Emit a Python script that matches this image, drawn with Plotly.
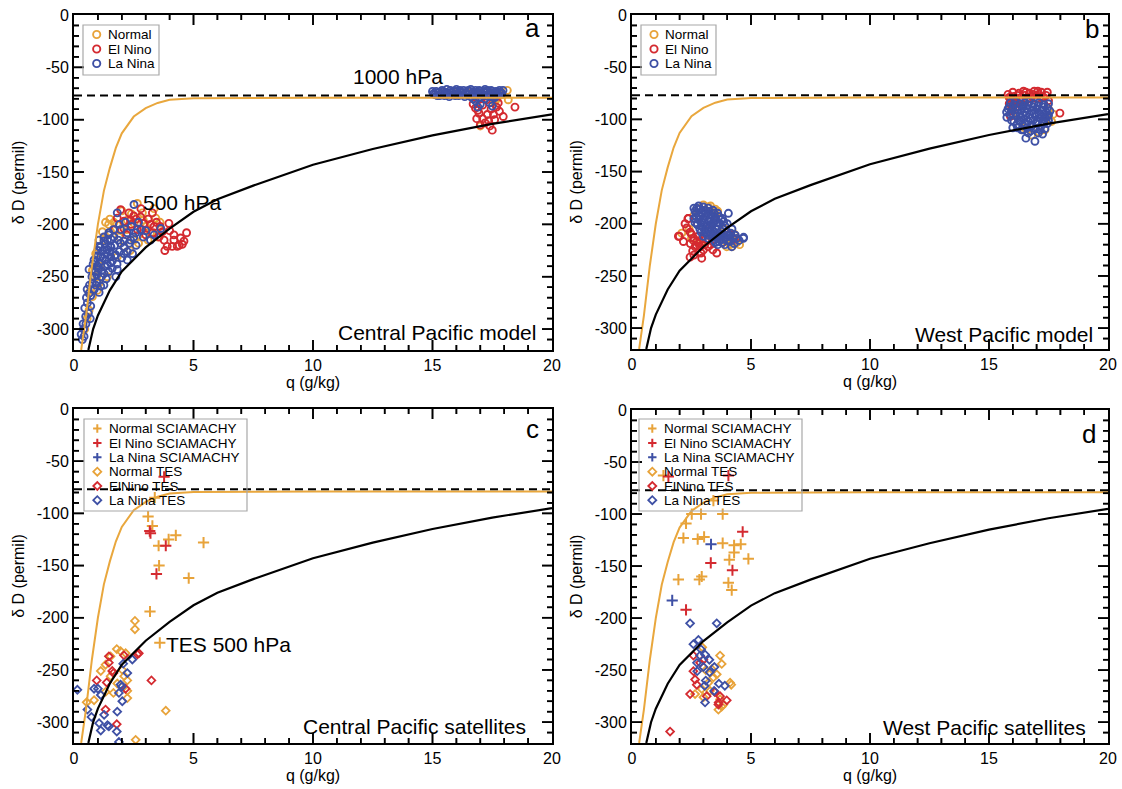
import plotly.graph_objects as go

# ---------------- data ----------------
X_TICK_VALS = [0, 5, 10, 15, 20]
X_TICK_TEXT = ["0", "5", "10", "15", "20"]
Y_TICK_VALS = [0, -50, -100, -150, -200, -250, -300]
Y_TICK_TEXT = ["0", "-50", "-100", "-150", "-200", "-250", "-300"]
X_RANGE = [0, 20]
Y_RANGE = [-320, 0]
X_MINOR_STEP = 1
Y_MINOR_STEP = 10

# Rayleigh-type curve (orange) and mixing curve (black)
Q_RAYLEIGH = [0.3, 0.5, 0.75, 1.0, 1.25, 1.5, 1.75, 2.0, 2.5, 3.0, 3.5, 4.0, 5.0, 7.5, 10, 15, 20]
DD_RAYLEIGH = [-320, -288, -240, -200, -168, -146, -127, -113, -97, -89, -84, -81, -79.5, -79, -79, -79, -79]
Q_MIXING = [0.6, 0.8, 1.0, 1.5, 2.0, 2.5, 3.0, 4.0, 5.0, 6.0, 7.5, 10, 12.5, 15, 17.5, 20]
DD_MIXING = [-320, -300, -287, -263, -245, -233, -222, -204, -188, -176, -163, -143, -128, -115, -104, -95]
Q_SURFACE = [0, 20]
DD_SURFACE = [-77, -77]

# Panel a: Central Pacific model
A_NORMAL = [(2.65, -180), (1.32, -198), (1.67, -198), (3.35, -185), (1.19, -207), (2.51, -215), (3.0, -202),
            (3.2, -208), (0.98, -263), (1.05, -256), (0.77, -269), (0.63, -282), (2.86, -189), (2.23, -196),
            (1.88, -212), (1.53, -207), (2.09, -221), (1.81, -231), (0.91, -228), (1.39, -250), (0.77, -244),
            (3.63, -205), (2.51, -199), (3.42, -194), (1.45, -200), (2.0, -205), (2.7, -210), (1.1, -240),
            (0.55, -290), (0.45, -300), (3.5, -212), (2.35, -225),
            (1.5, -195), (1.8, -200), (2.4, -190), (2.9, -196), (3.1, -215), (2.7, -218), (1.25, -215),
            (0.95, -250), (0.65, -265), (2.2, -205), (3.6, -198), (2.0, -187),
            (18.13, -72), (18.17, -81), (17.0, -106), (17.9, -76), (17.7, -80), (17.3, -73), (16.5, -74),
            (16.0, -75), (15.5, -74), (17.6, -83)]
A_ELNINO = [(1.95, -186), (2.3, -189), (2.37, -196), (2.79, -193), (2.93, -199), (3.28, -189), (3.35, -202),
            (3.97, -199), (2.09, -204), (2.65, -205), (3.56, -212), (3.77, -215), (4.18, -215), (4.46, -213),
            (4.71, -208), (3.9, -221), (4.11, -221), (4.32, -221), (4.53, -219), (4.18, -210), (3.7, -207),
            (1.81, -194), (2.09, -197), (2.5, -192), (3.1, -195), (2.2, -210), (2.85, -205), (3.45, -198),
            (1.7, -205), (3.0, -210),
            (2.4, -200), (2.8, -185), (3.3, -208), (3.6, -202), (4.0, -206), (4.4, -220), (3.8, -225),
            (2.6, -195), (3.2, -200), (4.6, -216),
            (16.9, -91), (17.1, -99), (17.5, -110), (17.4, -106), (18.45, -88), (17.96, -97), (16.85, -99),
            (17.26, -81), (17.68, -88), (16.7, -85), (17.0, -105), (16.8, -89), (17.3, -95), (17.6, -100),
            (17.2, -103), (17.8, -92), (16.95, -94), (17.45, -90), (17.75, -84), (17.1, -86), (17.35, -101),
            (17.55, -95), (17.05, -80), (17.65, -78), (17.85, -75), (17.5, -75)]
A_LANINA = [(2.51, -181), (1.81, -189), (1.46, -208), (1.26, -216), (1.67, -212), (1.95, -218), (1.39, -224),
            (1.12, -231), (0.84, -234), (0.98, -240), (1.53, -237), (2.09, -228), (2.23, -234), (1.81, -243),
            (1.26, -247), (0.84, -250), (0.63, -243), (0.77, -256), (0.63, -266), (0.56, -275), (0.7, -278),
            (0.49, -288), (0.42, -307), (0.35, -310), (2.79, -205), (2.58, -208), (3.35, -210), (3.63, -204),
            (3.2, -215), (1.53, -221), (1.05, -221), (1.74, -229), (1.32, -234), (1.95, -205), (2.23, -208),
            (2.37, -215), (1.12, -259), (0.91, -258), (1.53, -231), (1.05, -237), (2.23, -226), (2.09, -216),
            (1.2, -225), (1.0, -230), (1.4, -215), (1.3, -240), (0.9, -245), (1.6, -235), (1.15, -250),
            (0.95, -255), (1.45, -245), (1.7, -220), (1.25, -212), (0.85, -262), (0.7, -268), (0.6, -285),
            (0.5, -295), (0.3, -305), (0.4, -300), (1.05, -215), (1.35, -228), (1.55, -222), (1.85, -215),
            (1.0, -242),
            (0.9, -236), (1.1, -222), (1.3, -219), (1.5, -226), (1.7, -230), (1.9, -226), (2.1, -222),
            (2.3, -218), (2.5, -212), (1.2, -232), (1.4, -238), (1.6, -242), (1.8, -238), (2.0, -232),
            (0.75, -250), (0.95, -248), (1.15, -244), (1.35, -252), (0.8, -238), (1.0, -225), (1.45, -210),
            (1.65, -205), (1.9, -200), (2.15, -198), (2.4, -202), (2.7, -198), (3.0, -206), (2.6, -220),
            (1.25, -258), (1.05, -265), (0.65, -258), (0.55, -262), (0.45, -280), (0.52, -270), (0.68, -290),
            (0.38, -295), (1.75, -250), (2.45, -228), (2.9, -212), (1.55, -214),
            (15.0, -73), (15.1, -76), (15.25, -74), (15.4, -72), (15.5, -77), (15.6, -74), (15.75, -72),
            (15.85, -76), (16.0, -73), (16.1, -77), (16.2, -74), (16.3, -72), (16.45, -76), (16.55, -73),
            (16.6, -78), (16.7, -74), (16.8, -72), (16.9, -76), (17.0, -73), (17.1, -77), (17.2, -74),
            (17.3, -72), (17.4, -76), (17.5, -73), (17.6, -77), (17.7, -74), (17.8, -72), (17.9, -75),
            (15.3, -77), (15.7, -78), (16.35, -78), (16.95, -79), (17.55, -79),
            (15.05, -75), (15.15, -73), (15.2, -77), (15.35, -75), (15.45, -73), (15.55, -75), (15.65, -76),
            (15.8, -74), (15.9, -73), (15.95, -77), (16.05, -75), (16.15, -72), (16.25, -76), (16.4, -74),
            (16.5, -72), (16.65, -75), (16.75, -77), (16.85, -74), (16.95, -72), (17.05, -75), (17.15, -73),
            (17.25, -77), (17.35, -75), (17.45, -72), (17.55, -75), (17.65, -73), (17.75, -76), (17.85, -74),
            (17.95, -72), (16.0, -71), (16.6, -71), (17.2, -71), (15.6, -71),
            (16.8, -82), (17.0, -85), (17.2, -80), (16.9, -88), (17.4, -84), (17.6, -79), (16.7, -80),
            (17.5, -87)]

# Panel b: West Pacific model
B_NORMAL = [(2.09, -209), (4.12, -220), (3.98, -222), (3.21, -184), (3.42, -216), (4.52, -220), (4.2, -222),
            (2.8, -186), (3.6, -188), (3.9, -205), (2.4, -205), (3.3, -212), (2.9, -218), (4.3, -210),
            (3.7, -215), (2.6, -192), (3.0, -182), (3.3, -183), (3.5, -186), (4.4, -218), (3.95, -216),
            (2.5, -214),
            (17.49, -97), (17.63, -102), (17.35, -110), (16.79, -115), (17.2, -79), (16.3, -80), (17.5, -90),
            (16.0, -95), (17.1, -112), (16.5, -108), (17.7, -95)]
B_ELNINO = [(2.23, -200), (2.37, -195), (1.95, -212), (2.44, -208), (2.16, -217), (2.72, -217), (2.86, -222),
            (2.44, -232), (2.93, -233), (3.56, -228), (2.58, -216), (2.79, -212), (1.99, -212), (2.35, -195),
            (3.0, -225), (2.65, -222), (3.3, -220), (4.1, -210), (3.8, -218), (3.2, -205), (2.75, -200),
            (3.5, -212), (4.3, -215), (2.55, -226), (3.1, -215), (2.6, -214), (2.8, -219), (2.95, -214),
            (2.7, -221), (3.05, -220), (2.3, -204), (2.5, -210), (2.9, -228), (3.2, -222), (2.6, -230),
            (3.4, -225), (2.45, -219),
            (15.8, -76), (15.9, -80), (16.0, -74), (16.05, -78), (16.15, -82), (16.25, -75), (16.35, -79),
            (16.45, -73), (16.5, -77), (16.6, -81), (16.7, -75), (16.8, -78), (16.9, -73), (17.0, -80),
            (17.1, -76), (17.2, -74), (17.3, -79), (17.4, -77), (17.5, -82), (15.85, -85), (16.0, -88),
            (15.95, -92), (17.98, -94), (16.1, -84), (17.3, -85), (16.4, -86), (15.9, -97),
            (15.85, -79), (16.2, -77), (16.55, -74), (16.85, -76), (17.15, -78), (17.45, -74), (16.3, -82),
            (16.75, -80), (17.05, -73), (16.1, -90), (15.95, -83)]
B_LANINA = [(2.6, -185), (2.8, -183), (3.0, -184), (3.2, -185), (3.4, -187), (3.6, -190), (2.7, -190),
            (2.9, -189), (3.1, -190), (3.3, -192), (3.5, -194), (3.8, -195), (4.05, -190), (2.6, -195),
            (2.8, -196), (3.0, -195), (3.2, -197), (3.4, -199), (3.7, -200), (3.9, -202), (2.75, -201),
            (2.95, -203), (3.15, -202), (3.35, -205), (3.55, -205), (3.75, -207), (4.0, -208), (2.9, -208),
            (3.1, -209), (3.3, -210), (3.5, -211), (3.7, -212), (3.95, -213), (4.4, -214), (4.68, -214),
            (4.19, -222), (3.2, -214), (3.45, -216), (3.65, -217), (3.85, -215), (4.1, -217), (2.72, -185),
            (3.05, -199), (3.25, -203), (2.85, -193), (4.2, -205), (4.34, -211), (4.69, -213), (3.6, -220),
            (3.3, -197),
            (2.65, -188), (2.85, -186), (3.05, -187), (3.25, -188), (3.45, -190), (3.65, -193), (3.85, -198),
            (2.7, -193), (2.9, -198), (3.1, -193), (3.3, -195), (3.5, -197), (3.6, -202), (3.8, -204),
            (4.0, -200), (2.65, -199), (2.85, -205), (3.05, -206), (3.25, -207), (3.45, -208), (3.65, -209),
            (3.85, -210), (4.05, -212), (4.25, -214), (3.0, -212), (3.2, -211), (3.4, -213), (3.6, -214),
            (3.8, -218), (4.0, -216), (4.5, -216), (3.35, -201), (3.55, -199), (3.15, -205), (2.95, -191),
            (3.75, -196), (4.15, -209), (3.5, -218), (3.9, -220), (4.3, -219),
            (15.9, -84), (16.1, -83), (16.3, -85), (16.5, -84), (16.7, -83), (16.9, -85), (17.1, -84),
            (17.3, -86), (17.5, -85), (15.74, -93), (16.0, -90), (16.2, -91), (16.4, -89), (16.6, -90),
            (16.8, -92), (17.0, -90), (17.2, -91), (17.4, -93), (17.56, -92), (15.95, -101), (16.15, -97),
            (16.35, -98), (16.55, -96), (16.75, -99), (16.95, -97), (17.15, -99), (17.35, -98), (17.5, -101),
            (16.16, -105), (16.37, -110), (16.65, -113), (17.07, -113), (17.35, -109), (16.5, -104),
            (16.8, -106), (17.0, -104), (17.2, -106), (16.93, -121), (16.3, -102), (17.45, -104), (16.0, -108),
            (16.6, -108),
            (15.85, -88), (16.05, -86), (16.25, -88), (16.45, -87), (16.65, -86), (16.85, -88), (17.05, -87),
            (17.25, -88), (17.45, -89), (15.9, -95), (16.1, -94), (16.3, -95), (16.5, -93), (16.7, -95),
            (16.9, -94), (17.1, -95), (17.3, -95), (17.5, -96), (16.05, -102), (16.25, -101), (16.45, -100),
            (16.65, -102), (16.85, -101), (17.05, -102), (17.25, -102), (17.45, -97), (16.2, -108),
            (16.45, -110), (16.75, -111), (16.95, -109), (17.15, -110), (17.3, -103), (15.8, -90), (15.75, -98),
            (16.55, -118), (17.25, -114)]

# Panel c: Central Pacific satellites
C_NORMAL_SCIA = [(3.38, -85), (3.1, -103), (3.28, -112), (3.96, -125), (4.26, -121), (3.54, -131), (5.42, -128),
                 (3.56, -150), (4.8, -162), (3.18, -194), (3.59, -224)]
C_ELNINO_SCIA = [(3.77, -65), (3.17, -117), (3.2, -119), (3.84, -131), (3.45, -158)]
C_LANINA_SCIA = []
C_NORMAL_TES = [(2.55, -203), (2.55, -211), (1.79, -230), (1.95, -232), (2.16, -234), (1.53, -237), (1.32, -245),
                (1.12, -251), (2.02, -250), (1.53, -256), (2.1, -256), (2.23, -260), (1.81, -263), (1.65, -272),
                (1.32, -271), (2.23, -270), (2.23, -277), (0.84, -279), (0.53, -281), (3.84, -289), (2.58, -317)]
C_ELNINO_TES = [(1.46, -237), (2.09, -236), (2.65, -235), (1.46, -243), (1.6, -251), (1.65, -253), (0.95, -260),
                (1.37, -262), (2.16, -268), (3.24, -260), (1.32, -288), (1.79, -302), (2.71, -234)]
C_LANINA_TES = [(0.14, -269), (0.84, -268), (1.0, -268), (1.95, -264), (2.23, -253), (2.06, -244), (2.44, -240),
                (2.0, -266), (1.12, -274), (0.56, -288), (1.88, -272), (2.02, -280), (0.73, -295), (1.26, -293),
                (1.05, -301), (1.4, -303), (1.12, -308), (1.81, -290), (1.79, -309), (1.88, -319), (1.46, -304)]

# Panel d: West Pacific satellites
D_NORMAL_SCIA = [(2.51, -100), (2.9, -100), (3.81, -100), (2.27, -109), (2.16, -123), (2.76, -124), (3.03, -122),
                 (3.81, -128), (4.29, -130), (4.57, -129), (4.29, -137), (4.09, -144), (4.89, -143), (1.95, -163),
                 (2.83, -163), (2.93, -160), (4.05, -166), (4.19, -173), (1.32, -63), (3.42, -87)]
D_ELNINO_SCIA = [(4.65, -117), (3.31, -147), (4.22, -154), (2.27, -192), (1.53, -64), (4.05, -63)]
D_LANINA_SCIA = [(3.32, -129), (1.69, -183)]
D_NORMAL_TES = [(3.7, -236), (3.77, -244), (3.35, -249), (3.56, -254), (3.42, -257), (3.21, -262), (4.17, -264),
                (2.93, -268), (3.28, -270), (3.7, -278), (3.84, -283), (3.63, -288), (3.77, -285), (2.65, -273),
                (3.0, -276), (4.12, -262), (3.1, -250), (2.95, -228)]
D_ELNINO_TES = [(2.58, -236), (2.58, -251), (2.86, -243), (2.65, -259), (2.72, -264), (2.44, -273), (3.14, -275),
                (3.48, -271), (3.7, -275), (3.98, -279), (3.64, -281), (1.6, -309), (3.63, -283), (3.0, -240)]
D_LANINA_TES = [(2.44, -205), (3.56, -205), (2.79, -221), (2.58, -225), (2.9, -230), (3.07, -235), (2.86, -236),
                (3.25, -240), (2.73, -243), (3.0, -247), (3.46, -247), (3.26, -252), (2.74, -251), (3.1, -260),
                (3.65, -263), (3.9, -265), (3.05, -265), (3.45, -270), (3.07, -281)]

MODEL_LABELS = ["Normal", "El Nino", "La Nina"]
SAT_LABELS = ["Normal SCIAMACHY", "El Nino SCIAMACHY", "La Nina SCIAMACHY",
              "Normal TES", "ElNino TES", "La Nina TES"]

# ---------------- style ----------------
W, H = 1122, 789
FONT = "Liberation Sans, Arial, Helvetica, sans-serif"
YEL, RED, BLU = "#E8A33A", "#D42A30", "#3E50A5"
CURVE_YEL = "#E9A73D"

# plot-area pixel boxes (x0, x1, y0, y1)
BOX = {1: (74, 552, 15, 350), 2: (632, 1108, 15, 349), 3: (74, 552, 409, 743), 4: (632, 1108, 410, 743)}
MAJOR_LEN, MINOR_LEN = 10, 5   # tick lengths in px


def fx(p):
    return p / W


def fy(p):
    return 1 - p / H


def ax_ids(n):
    s = "" if n == 1 else str(n)
    return "x" + s, "y" + s


fig = go.Figure()
shapes = []
annotations = []


def scatter(n, pts, color, symbol, size, lw):
    xa, ya = ax_ids(n)
    fig.add_trace(go.Scatter(x=[p[0] for p in pts], y=[p[1] for p in pts], mode="markers", xaxis=xa, yaxis=ya,
                             showlegend=False, cliponaxis=True,
                             marker=dict(symbol=symbol, size=size, color=color,
                                         line=dict(color=color, width=lw))))


def curves(n):
    xa, ya = ax_ids(n)
    fig.add_trace(go.Scatter(x=Q_MIXING, y=DD_MIXING, mode="lines", xaxis=xa, yaxis=ya,
                             showlegend=False, line=dict(color="black", width=2.2)))
    fig.add_trace(go.Scatter(x=Q_RAYLEIGH, y=DD_RAYLEIGH, mode="lines", xaxis=xa, yaxis=ya,
                             showlegend=False, line=dict(color=CURVE_YEL, width=2)))
    fig.add_trace(go.Scatter(x=Q_SURFACE, y=DD_SURFACE, mode="lines", xaxis=xa, yaxis=ya,
                             showlegend=False, line=dict(color="black", width=2, dash="8px,5px")))


def tick_marks(n):
    """Inward ticks on all four sides, in the panel's own data space (trace + data-referenced shapes)."""
    xa, ya = ax_ids(n)
    x0, x1, y0, y1 = BOX[n]
    ux = (X_RANGE[1] - X_RANGE[0]) / (x1 - x0)   # data units per px
    uy = (Y_RANGE[1] - Y_RANGE[0]) / (y1 - y0)
    segs = []
    for q in range(X_RANGE[0] + X_MINOR_STEP, X_RANGE[1], X_MINOR_STEP):
        ln = MAJOR_LEN if q in X_TICK_VALS else MINOR_LEN
        segs.append((q, q, Y_RANGE[0], Y_RANGE[0] + ln * uy))
        segs.append((q, q, Y_RANGE[1], Y_RANGE[1] - ln * uy))
    for v in range(Y_RANGE[0] + Y_MINOR_STEP, Y_RANGE[1], Y_MINOR_STEP):
        ln = MAJOR_LEN if v in Y_TICK_VALS else MINOR_LEN
        segs.append((X_RANGE[0], X_RANGE[0] + ln * ux, v, v))
        segs.append((X_RANGE[1], X_RANGE[1] - ln * ux, v, v))
    xs, ys = [], []
    for (a, b, c, d) in segs:
        xs += [a, b, None]
        ys += [c, d, None]
        shapes.append(dict(type="line", xref=xa, yref=ya, x0=a, x1=b, y0=c, y1=d,
                           line=dict(color="black", width=1.6)))
    fig.add_trace(go.Scatter(x=xs, y=ys, mode="lines", xaxis=xa, yaxis=ya, showlegend=False,
                             cliponaxis=False, line=dict(color="black", width=1.6)))


CIRC = dict(symbol="circle-open", size=7, lw=1.9)
PLUS = dict(symbol="cross-thin-open", size=8, lw=2)
DIAM = dict(symbol="diamond-open", size=6, lw=1.8)

for n, (nor, eln, lan) in {1: (A_NORMAL, A_ELNINO, A_LANINA), 2: (B_NORMAL, B_ELNINO, B_LANINA)}.items():
    scatter(n, nor, YEL, **CIRC)
    scatter(n, eln, RED, **CIRC)
    scatter(n, lan, BLU, **CIRC)
    curves(n)
    tick_marks(n)

for n, sets in {3: (C_NORMAL_SCIA, C_ELNINO_SCIA, C_LANINA_SCIA, C_NORMAL_TES, C_ELNINO_TES, C_LANINA_TES),
                4: (D_NORMAL_SCIA, D_ELNINO_SCIA, D_LANINA_SCIA, D_NORMAL_TES, D_ELNINO_TES, D_LANINA_TES)}.items():
    cols = [YEL, RED, BLU]
    for i in range(3):
        if sets[i]:
            scatter(n, sets[i], cols[i], **PLUS)
    for i in range(3):
        scatter(n, sets[3 + i], cols[i], **DIAM)
    curves(n)
    tick_marks(n)

# ---------------- axes ----------------
layout = dict(width=W, height=H, margin=dict(l=0, r=0, t=0, b=0, pad=0, autoexpand=False),
              paper_bgcolor="white", plot_bgcolor="white", showlegend=False,
              font=dict(family=FONT, color="black"))

for n, (x0, x1, y0, y1) in BOX.items():
    xa, ya = ax_ids(n)
    layout["xaxis" + xa[1:]] = dict(
        domain=[fx(x0), fx(x1)], anchor=ya, range=X_RANGE,
        tickmode="array", tickvals=X_TICK_VALS, ticktext=X_TICK_TEXT,
        showline=True, linewidth=2, linecolor="black", mirror=True,
        showgrid=False, zeroline=False,
        tickfont=dict(family=FONT, size=16, color="black"),
        title=dict(text="q (g/kg)", font=dict(family=FONT, size=16, color="black"), standoff=2))
    layout["yaxis" + ya[1:]] = dict(
        domain=[fy(y1), fy(y0)], anchor=xa, range=Y_RANGE,
        tickmode="array", tickvals=Y_TICK_VALS, ticktext=Y_TICK_TEXT,
        showline=True, linewidth=2, linecolor="black", mirror=True,
        showgrid=False, zeroline=False,
        tickfont=dict(family=FONT, size=16, color="black"),
        title=dict(text="δ D (permil)", font=dict(family=FONT, size=16, color="black"), standoff=8))

fig.update_layout(**layout)


def txt(text, x, y, xref, yref, size, xanchor="center", yanchor="middle"):
    annotations.append(dict(text=text, x=x, y=y, xref=xref, yref=yref, showarrow=False,
                            xanchor=xanchor, yanchor=yanchor, font=dict(family=FONT, size=size, color="black")))


# panel letters and titles
for n, letter, lx, ly in [(1, "a", 0.960, 0.962), (2, "b", 0.966, 0.958), (3, "c", 0.960, 0.940), (4, "d", 0.961, 0.928)]:
    xa, ya = ax_ids(n)
    txt(letter, lx, ly, xa + " domain", ya + " domain", 26)
txt("Central Pacific model", 0.971, 0.051, "x domain", "y domain", 21, xanchor="right")
txt("West Pacific model", 0.973, 0.042, "x2 domain", "y2 domain", 21, xanchor="right")
txt("Central Pacific satellites", 0.950, 0.048, "x3 domain", "y3 domain", 21, xanchor="right")
txt("West Pacific satellites", 0.958, 0.048, "x4 domain", "y4 domain", 21, xanchor="right")
txt("1000 hPa", 13.56, -59, "x", "y", 21)
txt("500 hPa", 4.56, -179, "x", "y", 21)
txt("TES 500 hPa", 3.75, -226, "x3", "y3", 21, xanchor="left")

# legends (hand placed, symbols drawn as shapes)
LEG = [
    dict(box=(83, 159, 25, 75), sx=96.7, tx=105.5, rows=[34.5, 49, 63.5], labels=MODEL_LABELS,
         syms=[("o", YEL), ("o", RED), ("o", BLU)]),
    dict(box=(641, 716, 25, 75), sx=654, tx=662.5, rows=[34.5, 49, 63.5], labels=MODEL_LABELS,
         syms=[("o", YEL), ("o", RED), ("o", BLU)]),
    dict(box=(84, 247, 419, 511), sx=97.3, tx=106.5, rows=[428.5, 443, 457.3, 471.7, 486, 500.2],
         labels=SAT_LABELS,
         syms=[("+", YEL), ("+", RED), ("+", BLU), ("d", YEL), ("d", RED), ("d", BLU)]),
    dict(box=(639, 802, 419, 511), sx=652.3, tx=661.5, rows=[428.5, 443, 457.3, 471.7, 486, 500.2],
         labels=SAT_LABELS,
         syms=[("+", YEL), ("+", RED), ("+", BLU), ("d", YEL), ("d", RED), ("d", BLU)]),
]
for lg in LEG:
    bx0, bx1, by0, by1 = lg["box"]
    shapes.append(dict(type="rect", xref="paper", yref="paper", x0=fx(bx0), x1=fx(bx1), y0=fy(by1), y1=fy(by0),
                       line=dict(color="#A8A8A8", width=1.2), fillcolor="rgba(0,0,0,0)"))
    sx = lg["sx"]
    for (sym, col), ry, lab in zip(lg["syms"], lg["rows"], lg["labels"]):
        if sym == "o":
            shapes.append(dict(type="circle", xref="paper", yref="paper",
                               x0=fx(sx - 3.6), x1=fx(sx + 3.6), y0=fy(ry + 3.6), y1=fy(ry - 3.6),
                               line=dict(color=col, width=1.9)))
        elif sym == "+":
            path = (f"M {fx(sx - 4.2)},{fy(ry)} L {fx(sx + 4.2)},{fy(ry)} "
                    f"M {fx(sx)},{fy(ry - 4.2)} L {fx(sx)},{fy(ry + 4.2)}")
            shapes.append(dict(type="path", xref="paper", yref="paper", path=path, line=dict(color=col, width=2)))
        else:
            path = (f"M {fx(sx - 4)},{fy(ry)} L {fx(sx)},{fy(ry - 4)} L {fx(sx + 4)},{fy(ry)} "
                    f"L {fx(sx)},{fy(ry + 4)} Z")
            shapes.append(dict(type="path", xref="paper", yref="paper", path=path, line=dict(color=col, width=1.8)))
        txt(lab, fx(lg["tx"]), fy(ry), "paper", "paper", 13.5, xanchor="left")

fig.update_layout(annotations=annotations, shapes=shapes)
fig.write_html("out.html")
